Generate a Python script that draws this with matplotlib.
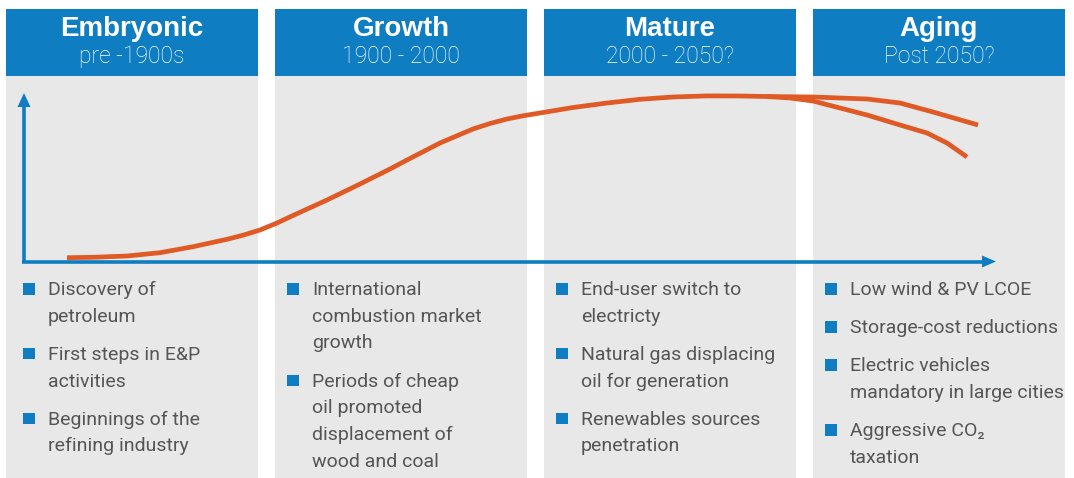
import matplotlib
matplotlib.use("Agg")
import matplotlib.pyplot as plt
from matplotlib.patches import Rectangle, Polygon

plt.rcParams['font.family'] = ['Roboto', 'DejaVu Sans']

# --- data ---
stages = ['Embryonic', 'Growth', 'Mature', 'Aging']
periods = ['pre -1900s', '1900 - 2000', '2000 - 2050?', 'Post 2050?']
bullets = [
    [['Discovery of', 'petroleum'],
     ['First steps in E&P', 'activities'],
     ['Beginnings of the', 'refining industry']],
    [['International', 'combustion market', 'growth'],
     ['Periods of cheap', 'oil promoted', 'displacement of', 'wood and coal']],
    [['End-user switch to', 'electricty'],
     ['Natural gas displacing', 'oil for generation'],
     ['Renewables sources', 'penetration']],
    [['Low wind & PV LCOE'],
     ['Storage-cost reductions'],
     ['Electric vehicles', 'mandatory in large cities'],
     ['Aggressive CO\u2082', 'taxation']],
]

# life-cycle curve (pixel space)
curve_x = [67, 93, 127, 160, 193, 227, 243, 260, 277, 293, 327, 360, 390,
           407, 440, 473, 490, 507, 523, 540, 573, 607, 640, 673, 707, 740, 767]
curve_y = [257.7, 257.3, 256, 252.7, 246.7, 239.3, 235.2, 230, 223, 215.5,
           200, 184, 169, 160, 143, 129, 123.5, 119, 115.8, 113, 107.5, 103,
           99.3, 97, 95.9, 96, 96.5]
upper_x = [767, 813, 867, 900, 933, 978]
upper_y = [96.5, 97, 99, 103, 112, 125]
lower_x = [767, 790, 813, 867, 900, 927, 947, 967]
lower_y = [96.5, 98, 101, 115, 125, 133, 143, 157]

# --- styling ---
BLUE = '#0F7DC2'
GRAY = '#E8E8E8'
ORANGE = '#E05A26'
TEXT = '#555555'

W, H = 1074, 478
fig = plt.figure(figsize=(W / 100, H / 100), dpi=100)
ax = fig.add_axes([0, 0, 1, 1])
ax.set_xlim(0, W)
ax.set_ylim(H, 0)
ax.axis('off')

panel_x = [6, 275, 544, 813]
panel_w = 252
indent = [17, 12, 12, 12]   # first panel lines up with the y-axis

for i, x0 in enumerate(panel_x):
    ax.add_patch(Rectangle((x0, 76), panel_w, H - 76, color=GRAY, lw=0, zorder=0))
    ax.add_patch(Rectangle((x0, 9), panel_w, 67, color=BLUE, lw=0, zorder=1))
    cx = x0 + panel_w / 2
    ax.text(cx, 29, stages[i], color='white', fontsize=20, fontweight='bold',
            family=['Liberation Sans', 'DejaVu Sans'],
            ha='center', va='center', zorder=2)
    ax.text(cx, 56, periods[i], color='white', fontsize=16.5, fontweight='light',
            ha='center', va='center', zorder=2)

    # bullet lists
    y = 295
    for item in bullets[i]:
        ax.add_patch(Rectangle((x0 + indent[i], y - 12), 12, 11.5, color=BLUE,
                               lw=0, zorder=2))
        for line in item:
            ax.text(x0 + indent[i] + 25, y, line, color=TEXT, fontsize=14,
                    ha='left', va='baseline', zorder=2)
            y += 26.7
        y += 11.5

# axes arrows
ax.plot([24, 24], [262, 104], color=BLUE, lw=2.6, solid_capstyle='butt', zorder=3)
ax.add_patch(Polygon([[24, 93], [17.5, 107], [30.5, 107]], closed=True,
                     color=BLUE, lw=0, zorder=3))
ax.plot([22, 984], [261.5, 261.5], color=BLUE, lw=2.6, solid_capstyle='butt', zorder=3)
ax.add_patch(Polygon([[996, 261.5], [982, 255.5], [982, 267.5]], closed=True,
                     color=BLUE, lw=0, zorder=3))

# orange curve with two ageing scenarios
kw = dict(color=ORANGE, lw=3.4, solid_capstyle='butt', solid_joinstyle='round', zorder=4)
ax.plot(curve_x, curve_y, **kw)
ax.plot(upper_x, upper_y, **kw)
ax.plot(lower_x, lower_y, **kw)

fig.savefig('out.png', dpi=100)
